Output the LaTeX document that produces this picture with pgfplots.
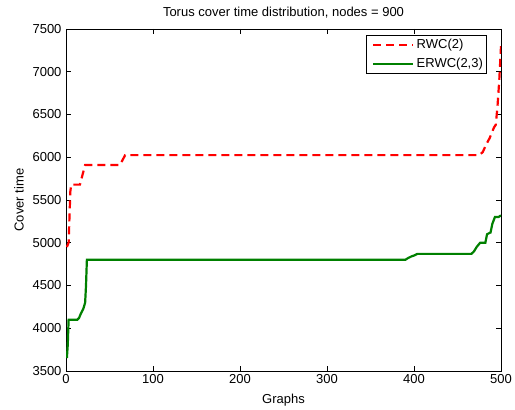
\documentclass[border=0pt]{standalone}
\usepackage{fontspec}
\setmainfont{Liberation Sans}
\usepackage{pgfplots}
\pgfplotsset{compat=1.18}
\begin{document}
\fontsize{13bp}{15bp}\selectfont
\begin{tikzpicture}
\begin{axis}[
  scale only axis,
  width=435bp, height=342bp,
  at={(0,0)}, anchor=south west,
  xmin=0, xmax=500, ymin=3500, ymax=7500,
  xtick={0,100,200,300,400,500},
  ytick={3500,4000,4500,5000,5500,6000,6500,7000,7500},
  tick align=inside,
  major tick length=5bp,
  axis line style={line width=0.8bp},
  tick style={line width=0.6bp, black},
  /pgf/number format/assume math mode=true,
  /pgf/number format/1000 sep={},
  ticklabel style={font=\fontsize{13bp}{15bp}\selectfont},
  xticklabel style={yshift=1bp},
  title={Torus cover time distribution, nodes = 900},
  title style={font=\fontsize{13bp}{15bp}\selectfont, yshift=0bp},
  xlabel={Graphs}, ylabel={Cover time},
  label style={font=\fontsize{13bp}{15bp}\selectfont},
  xlabel style={yshift=-1bp},
  ylabel style={yshift=0bp},
  legend style={at={(0.966,0.982)}, anchor=north east, draw=black, line width=0.6bp,
    font=\fontsize{13bp}{15bp}\selectfont, inner xsep=0.5bp, inner ysep=3.5bp, row sep=8bp,
    nodes={inner xsep=2.5bp, inner ysep=0bp}},
  legend cell align=left,
  legend image code/.code={\draw[#1] (6bp,0bp) -- (46bp,0bp); \path[draw=none] (0bp,0bp) -- (1bp,0bp);},
]
\addplot[red, line width=2.2bp, dash pattern=on 8bp off 5bp] coordinates {
(1,4950) (3,5000) (5,5600) (6,5680) (16,5680) (22,5910) (62,5910) (68,6025)
(475,6025) (479,6060) (483,6150) (487,6225) (492,6350) (494,6380) (496,6600)
(498,6900) (499,7100) (500,7300)
};
\addlegendentry{RWC(2)}
\addplot[color={rgb,1:red,0;green,0.5;blue,0}, line width=2.2bp] coordinates {
(1,3650) (2,3800) (3,4100) (13,4100) (15,4120) (17,4170) (20,4230) (22,4300)
(23,4500) (24,4800) (390,4800) (393,4820) (397,4840) (400,4850) (404,4870)
(466,4870) (469,4900) (472,4950) (476,5000) (482,5000) (484,5100) (488,5120)
(490,5220) (493,5300) (497,5300) (500,5320)
};
\addlegendentry{ERWC(2,3)}
\end{axis}
\pgfresetboundingbox
\path[use as bounding box] (-66bp,-39bp) rectangle (449bp,371bp);
\end{tikzpicture}
\end{document}
